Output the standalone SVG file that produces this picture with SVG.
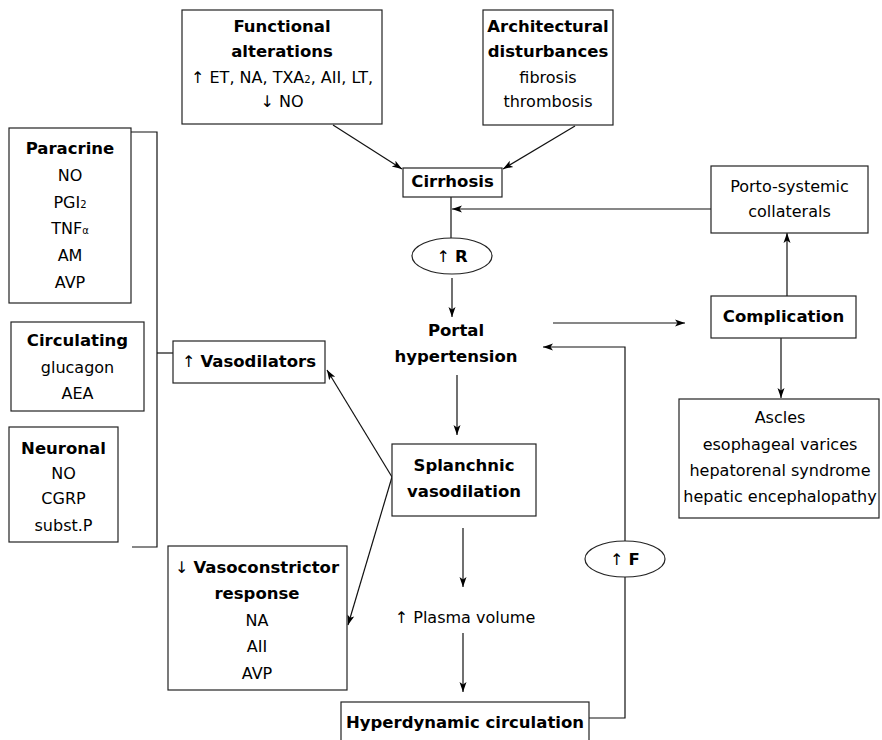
<svg xmlns="http://www.w3.org/2000/svg" width="882" height="740" viewBox="0 0 882 740">
<defs>
<marker id="ah" markerWidth="11" markerHeight="9" refX="10" refY="4.5" orient="auto" markerUnits="userSpaceOnUse">
<path d="M0,1 L10,4.5 L0,8 L2.5,4.5 z" fill="#000"/>
</marker>
<style>
text{font-family:"DejaVu Sans",Verdana,sans-serif;font-size:16px;fill:#000;text-anchor:middle}
.b{font-weight:bold;font-size:16.5px}
.sub{font-size:10px}
rect{fill:#fff;stroke:#222;stroke-width:1.2}
ellipse{fill:#fff;stroke:#222;stroke-width:1.2}
.c line,.c polyline{stroke:#111;stroke-width:1.2;fill:none}
.a{marker-end:url(#ah)}
</style>
</defs>
<rect x="0" y="0" width="882" height="740" style="fill:#fff;stroke:none"/>
<g class="c" id="connectors">
<line class="a" x1="333" y1="125" x2="402" y2="169"/>
<line class="a" x1="575" y1="126" x2="503" y2="169"/>
<line x1="451" y1="197" x2="451" y2="238"/>
<line class="a" x1="711" y1="209" x2="452" y2="209"/>
<line class="a" x1="452" y1="278" x2="452" y2="317"/>
<line class="a" x1="553" y1="323" x2="685" y2="323"/>
<polyline class="a" points="589,718 625,718 625,347 543,347"/>
<line class="a" x1="787" y1="296" x2="787" y2="233"/>
<line class="a" x1="781" y1="338" x2="781" y2="398"/>
<polyline points="126,132 157,132 157,547 132,547"/>
<line x1="157" y1="353" x2="173" y2="353"/>
<line class="a" x1="392" y1="477" x2="327" y2="370"/>
<line class="a" x1="392" y1="477" x2="348" y2="625"/>
<line class="a" x1="457" y1="375" x2="457" y2="435"/>
<line class="a" x1="463" y1="528" x2="463" y2="587"/>
<line class="a" x1="463" y1="633" x2="463" y2="692"/>
</g>
<g id="functional">
<rect x="182" y="10" width="200" height="114"/>
<text x="282" y="32" class="b">Functional</text>
<text x="282" y="57" class="b">alterations</text>
<text x="282" y="83">↑ ET, NA, TXA<tspan class="sub">2</tspan>, AII, LT,</text>
<text x="282" y="107">↓ NO</text>
</g>
<g id="architectural">
<rect x="483" y="10" width="130" height="115"/>
<text x="548" y="32" class="b">Architectural</text>
<text x="548" y="57" class="b">disturbances</text>
<text x="548" y="83">fibrosis</text>
<text x="548" y="107">thrombosis</text>
</g>
<g id="cirrhosis">
<rect x="403" y="168" width="99" height="29"/>
<text x="452.5" y="187" class="b">Cirrhosis</text>
</g>
<g id="resistance">
<ellipse cx="452" cy="256" rx="40" ry="18"/>
<text x="452" y="262">↑ <tspan class="b">R</tspan></text>
</g>
<g id="portal">
<text x="456" y="336" class="b">Portal</text>
<text x="456" y="362" class="b">hypertension</text>
</g>
<g id="flow">
<ellipse cx="625" cy="559" rx="40" ry="18"/>
<text x="625" y="565">↑ <tspan class="b">F</tspan></text>
</g>
<g id="porto">
<rect x="711" y="166" width="157" height="67"/>
<text x="789.5" y="192">Porto-systemic</text>
<text x="789.5" y="217">collaterals</text>
</g>
<g id="complication">
<rect x="711" y="296" width="145" height="42"/>
<text x="783.5" y="322" class="b">Complication</text>
</g>
<g id="ascles">
<rect x="679" y="399" width="200" height="119"/>
<text x="780" y="423">Ascles</text>
<text x="780" y="450">esophageal varices</text>
<text x="780" y="476">hepatorenal syndrome</text>
<text x="780" y="502">hepatic encephalopathy</text>
</g>
<g id="paracrine">
<rect x="9" y="128" width="122" height="175"/>
<text x="70" y="154" class="b">Paracrine</text>
<text x="70" y="181">NO</text>
<text x="70" y="208">PGI<tspan class="sub">2</tspan></text>
<text x="70" y="234">TNF<tspan class="sub">α</tspan></text>
<text x="70" y="261">AM</text>
<text x="70" y="288">AVP</text>
</g>
<g id="circulating">
<rect x="11" y="322" width="133" height="89"/>
<text x="77.5" y="346" class="b">Circulating</text>
<text x="77.5" y="373">glucagon</text>
<text x="77.5" y="399">AEA</text>
</g>
<g id="neuronal">
<rect x="9" y="427" width="109" height="115"/>
<text x="63.5" y="454" class="b">Neuronal</text>
<text x="63.5" y="479">NO</text>
<text x="63.5" y="504">CGRP</text>
<text x="63.5" y="531">subst.P</text>
</g>
<g id="vasodilators">
<rect x="173" y="341" width="152" height="42"/>
<text x="249" y="367">↑ <tspan class="b">Vasodilators</tspan></text>
</g>
<g id="splanchnic">
<rect x="392" y="444" width="144" height="72"/>
<text x="464" y="471" class="b">Splanchnic</text>
<text x="464" y="497" class="b">vasodilation</text>
</g>
<g id="plasma">
<text x="465" y="623">↑ Plasma volume</text>
</g>
<g id="hyperdynamic">
<rect x="341" y="702" width="248" height="50"/>
<text x="465" y="728" class="b">Hyperdynamic circulation</text>
</g>
<g id="vasoconstrictor">
<rect x="168" y="546" width="179" height="144"/>
<text x="257" y="573">↓ <tspan class="b">Vasoconstrictor</tspan></text>
<text x="257" y="599" class="b">response</text>
<text x="257" y="626">NA</text>
<text x="257" y="652">AII</text>
<text x="257" y="679">AVP</text>
</g>
</svg>
